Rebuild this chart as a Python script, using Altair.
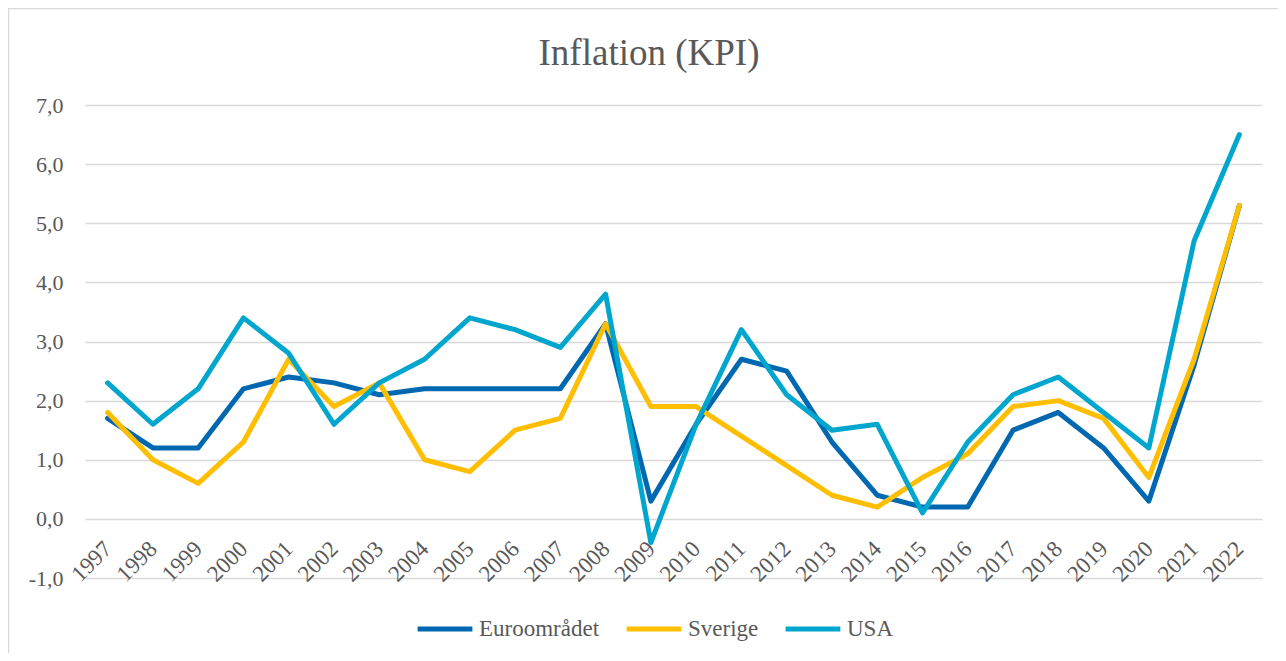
import altair as alt
import pandas as pd

years = [str(y) for y in range(1997, 2023)]
euro = [1.7, 1.2, 1.2, 2.2, 2.4, 2.3, 2.1, 2.2, 2.2, 2.2, 2.2, 3.3, 0.3,
        1.6, 2.7, 2.5, 1.3, 0.4, 0.2, 0.2, 1.5, 1.8, 1.2, 0.3, 2.6, 5.3]
sverige = [1.8, 1.0, 0.6, 1.3, 2.7, 1.9, 2.3, 1.0, 0.8, 1.5, 1.7, 3.3, 1.9,
           1.9, 1.4, 0.9, 0.4, 0.2, 0.7, 1.1, 1.9, 2.0, 1.7, 0.7, 2.7, 5.3]
usa = [2.3, 1.6, 2.2, 3.4, 2.8, 1.6, 2.3, 2.7, 3.4, 3.2, 2.9, 3.8, -0.4,
       1.6, 3.2, 2.1, 1.5, 1.6, 0.1, 1.3, 2.1, 2.4, 1.8, 1.2, 4.7, 6.5]
series_names = ["Euroområdet", "Sverige", "USA"]
series_colors = ["#0068B0", "#FFBE00", "#00A6CE"]
y_ticks = [-1, 0, 1, 2, 3, 4, 5, 6, 7]
title_text = "Inflation (KPI)"

rows = []
for name, vals in zip(series_names, [euro, sverige, usa]):
    for yr, v in zip(years, vals):
        rows.append({"År": yr, "Serie": name, "Värde": v})
df = pd.DataFrame(rows)

FONT = "Liberation Serif"
TXT = "#595959"
GRID = "#D9D9D9"
W, H = 1177, 473

frame = alt.Chart(alt.Data(values=[{}])).mark_rect(
    fill=None, stroke=GRID, strokeWidth=1.5
).encode(
    x=alt.value(-76.5), x2=alt.value(W + 60),
    y=alt.value(-96.5), y2=alt.value(H + 200)
)

title = alt.Chart(alt.Data(values=[{"t": title_text}])).mark_text(
    font=FONT, fontSize=37, color=TXT, align="center", baseline="alphabetic"
).encode(x=alt.value(564), y=alt.value(-40), text="t:N")

lines = alt.Chart(df).mark_line(strokeWidth=5, strokeJoin="round", strokeCap="round").encode(
    x=alt.X("År:O", sort=years,
            scale=alt.Scale(type="point", padding=0.5),
            axis=alt.Axis(title=None, domain=False, ticks=False, grid=False,
                          labelAngle=-45, labelAlign="right", labelBaseline="middle",
                          labelPadding=26, offset=-59, labelFontSize=23,
                          labelFont=FONT, labelColor=TXT)),
    y=alt.Y("Värde:Q",
            scale=alt.Scale(domain=[-1, 7], nice=False, zero=False),
            axis=alt.Axis(title=None, domain=False, ticks=False, values=y_ticks,
                          gridColor=GRID, gridWidth=1.5, labelPadding=22,
                          labelFontSize=22, labelFont=FONT, labelColor=TXT,
                          labelExpr="(datum.value < 0 ? '-' : '') + replace(format(abs(datum.value), '.1f'), '.', ',')")),
    color=alt.Color("Serie:N", sort=series_names,
                    scale=alt.Scale(domain=series_names, range=series_colors),
                    legend=alt.Legend(title=None, orient="none", legendX=330, legendY=494,
                                      direction="horizontal", symbolType="stroke",
                                      symbolSize=3000, symbolStrokeWidth=5,
                                      labelFontSize=23, labelFont=FONT, labelColor=TXT,
                                      labelOffset=4, columnPadding=16))
)

chart = alt.layer(frame, title, lines).properties(
    width=W, height=H,
    autosize=alt.AutoSizeParams(type="none"),
    padding={"left": 77, "top": 97, "right": 16, "bottom": 75},
).configure_view(stroke=None)

chart.save("out.html", embed_options={"renderer": "svg", "actions": False})
